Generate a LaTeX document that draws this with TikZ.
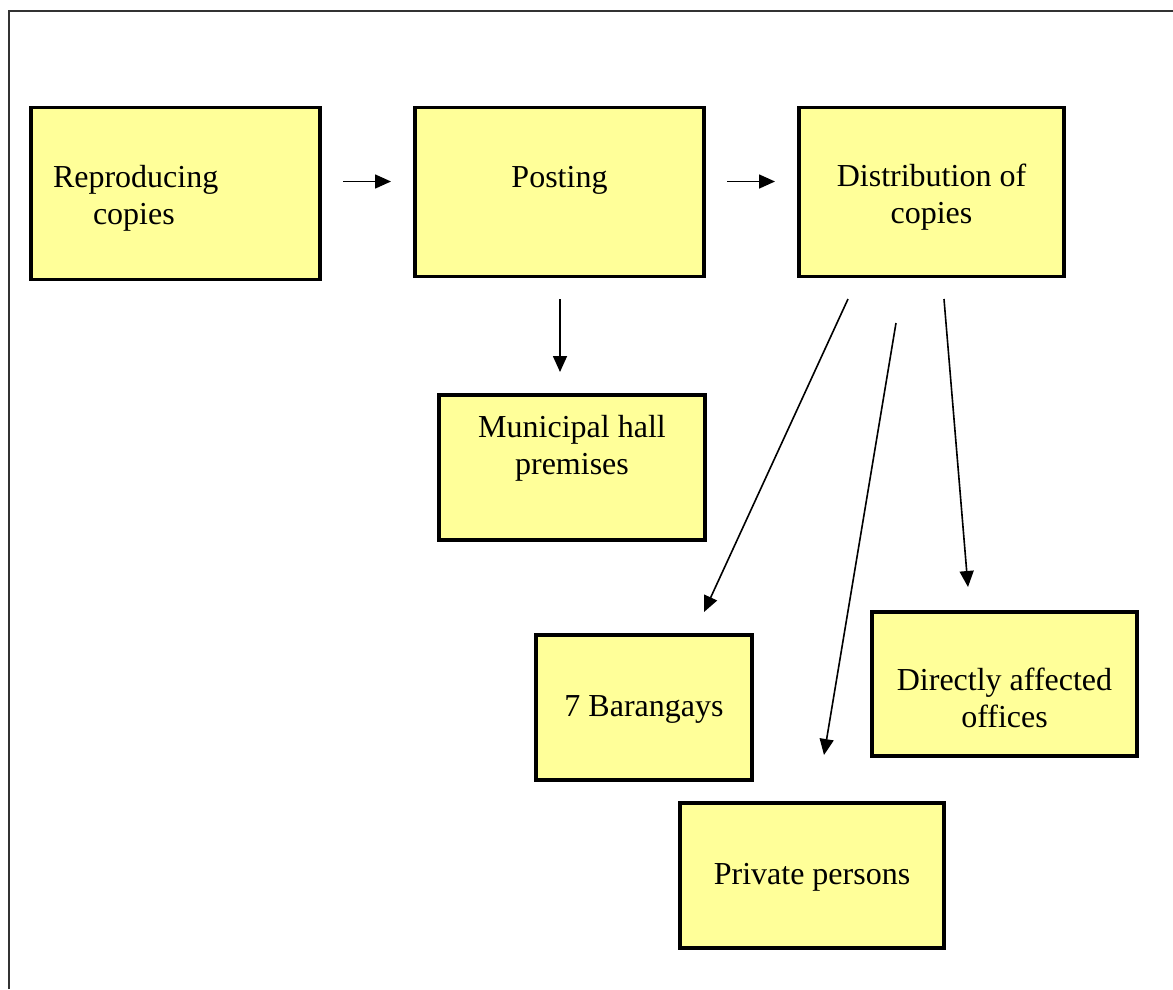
\documentclass[tikz,border=0pt]{standalone}
\usepackage{fontspec}
\setmainfont{Liberation Serif}
\usepackage{xcolor}
\usetikzlibrary{arrows.meta,positioning}
\definecolor{NoteYellow}{HTML}{FFFF99}
\definecolor{FrameGray}{HTML}{333333}

\begin{document}
\begin{tikzpicture}[x=1pt,y=-1pt,node distance=95pt,>={Triangle[length=16pt,width=14pt]}]
  \tikzset{stepbox/.style={draw=black,fill=NoteYellow,line width=3.5pt,
    inner sep=0pt,outer sep=0pt,align=center,
    font=\fontsize{32}{37}\selectfont},
    boxdim/.style n args={3}{minimum width=#1,text height=#2,text depth=#3},
    flow/.style={->,black,line width=1.6pt}}
  \useasboundingbox (0,0) rectangle (1173,989);
  \draw[FrameGray,line width=2pt] (8.5,989) -- (8.5,11) -- (1173,11);
  % top row
  \node[stepbox,text width=245pt,inner xsep=22pt,align=left,
    text height=79.5pt,text depth=92.5pt] (repro) at (175.5,193.5)
    {Reproducing\\\hspace*{40pt}copies};
  \node[stepbox,boxdim={289pt}{80pt}{89pt},right=of repro.north east,anchor=north west] (posting) {Posting};
  \node[stepbox,boxdim={265pt}{116pt}{53pt},right=of posting.north east,anchor=north west] (distrib) {Distribution of\\copies};
  % receivers
  \node[stepbox,boxdim={266pt}{79.5pt}{65.5pt}] (hall) at (572,467.5) {Municipal hall\\premises};
  \node[stepbox,boxdim={216pt}{81.5pt}{63.5pt}] (brgy) at (644,707.5) {7 Barangays};
  \node[stepbox,boxdim={265pt}{115.5pt}{28.5pt}] (offices) at (1004.5,684) {Directly affected\\offices};
  \node[stepbox,boxdim={264pt}{81.5pt}{63.5pt}] (persons) at (812,875.5) {Private persons};
  % free arrow ends
  \coordinate (r2p-a) at (343,181.5);
  \coordinate (r2p-b) at (391,181.5);
  \coordinate (p2d-a) at (727,181.5);
  \coordinate (p2d-b) at (775,181.5);
  \coordinate (p2h-a) at (560,299);
  \coordinate (p2h-b) at (560,372);
  \coordinate (d2b-a) at (848,299);
  \coordinate (d2b-b) at (704,612);
  \coordinate (d2p-a) at (896,323);
  \coordinate (d2p-b) at (824,755);
  \coordinate (d2o-a) at (944,299);
  \coordinate (d2o-b) at (968,587);
  \draw[flow] (r2p-a) -- (r2p-b);
  \draw[flow] (p2d-a) -- (p2d-b);
  \draw[flow] (p2h-a) -- (p2h-b);
  \draw[flow] (d2b-a) -- (d2b-b);
  \draw[flow] (d2p-a) -- (d2p-b);
  \draw[flow] (d2o-a) -- (d2o-b);
\end{tikzpicture}
\end{document}
